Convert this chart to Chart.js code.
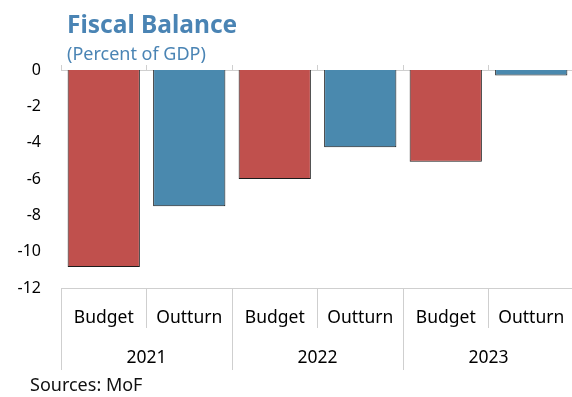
<!DOCTYPE html>
<html>
<head>
<meta charset="utf-8">
<script src="https://cdn.jsdelivr.net/npm/chart.js@4"></script>
<style>
  body { margin: 0; background: #fff; font-family: "Noto Sans", sans-serif; }
  #wrap { position: relative; width: 572px; height: 397px; overflow: hidden; }
  #chart { position: absolute; left: 0; top: 0; }
  .title { position: absolute; left: 67px; top: 9px; font-size: 24.5px; font-weight: bold; color: #4a84b4; line-height: 1.2; }
  .subtitle { position: absolute; left: 67px; top: 43px; font-size: 18px; color: #4a84b4; line-height: 1.2; }
  .source { position: absolute; left: 30px; top: 374px; font-size: 18px; color: #111; line-height: 1.2; }
</style>
</head>
<body>
<div id="wrap">
  <canvas id="chart" width="574" height="397"></canvas>
  <div class="title">Fiscal Balance</div>
  <div class="subtitle">(Percent of GDP)</div>
  <div class="source">Sources: MoF</div>
</div>
<script>
"strict";

// values
const years = ["2021", "2022", "2023"];
const kinds = ["Budget", "Outturn"];
const budget = [-10.85, -6.0, -5.05];
const outturn = [-7.5, -4.25, -0.3];
const yTicks = [0, -2, -4, -6, -8, -10, -12];

const RED = "#c0504d";
const BLUE = "#4a89ae";
const LINE = "#cfcfcf";

// interleave budget / outturn per year
const labels = [];
const values = [];
const colors = [];
years.forEach((yr, i) => {
  labels.push(kinds[0], kinds[1]);
  values.push(budget[i], outturn[i]);
  colors.push(RED, BLUE);
});

const yFont = { family: "Noto Sans", size: 16 };
const xFont = { family: "Noto Sans", size: 17.5 };

function renderChart(canvasId) {
  const ctx = document.getElementById(canvasId).getContext("2d");
  return new Chart(ctx, {
    type: "bar",
    data: {
      labels: labels,
      datasets: [{
        data: values,
        backgroundColor: colors,
        borderColor: "#1c1c1c",
        borderWidth: 1,
        barPercentage: 0.845,
        categoryPercentage: 1,
      }],
    },
    options: {
      responsive: false,
      animation: false,
      layout: { padding: { top: 65, left: 0, right: 0, bottom: 27 } },
      plugins: { legend: { display: false }, tooltip: { enabled: false } },
      scales: {
        y: {
          min: Math.min(...yTicks),
          max: Math.max(...yTicks),
          afterBuildTicks: (s) => { s.ticks = yTicks.map(v => ({ value: v })); },
          afterFit: (s) => { s.width = 61; },
          grid: { display: false, drawTicks: false },
          border: { display: false },
          ticks: { color: "#000", font: yFont, padding: 20 },
        },
        xTop: {
          type: "category",
          position: "top",
          offset: true,
          grid: { offset: true, drawOnChartArea: false, tickLength: 5, color: LINE },
          border: { color: LINE, width: 1 },
          ticks: { display: false },
        },
        x: {
          position: "bottom",
          weight: 0,
          offset: true,
          afterFit: (s) => { s.height = 40; },
          grid: { offset: true, drawOnChartArea: false, tickLength: 40, color: LINE },
          border: { color: LINE, width: 1 },
          ticks: { color: "#000", font: xFont, padding: -20, maxRotation: 0 },
        },
        x2: {
          type: "category",
          position: "bottom",
          weight: 1,
          labels: years,
          offset: true,
          afterFit: (s) => { s.height = 42; },
          grid: { offset: true, drawOnChartArea: false, tickLength: 42, color: LINE },
          border: { display: false },
          ticks: { color: "#000", font: xFont, padding: -22, maxRotation: 0 },
        },
      },
    },
  });
}

const fiscalChart = renderChart("chart");
</script>
</body>
</html>
